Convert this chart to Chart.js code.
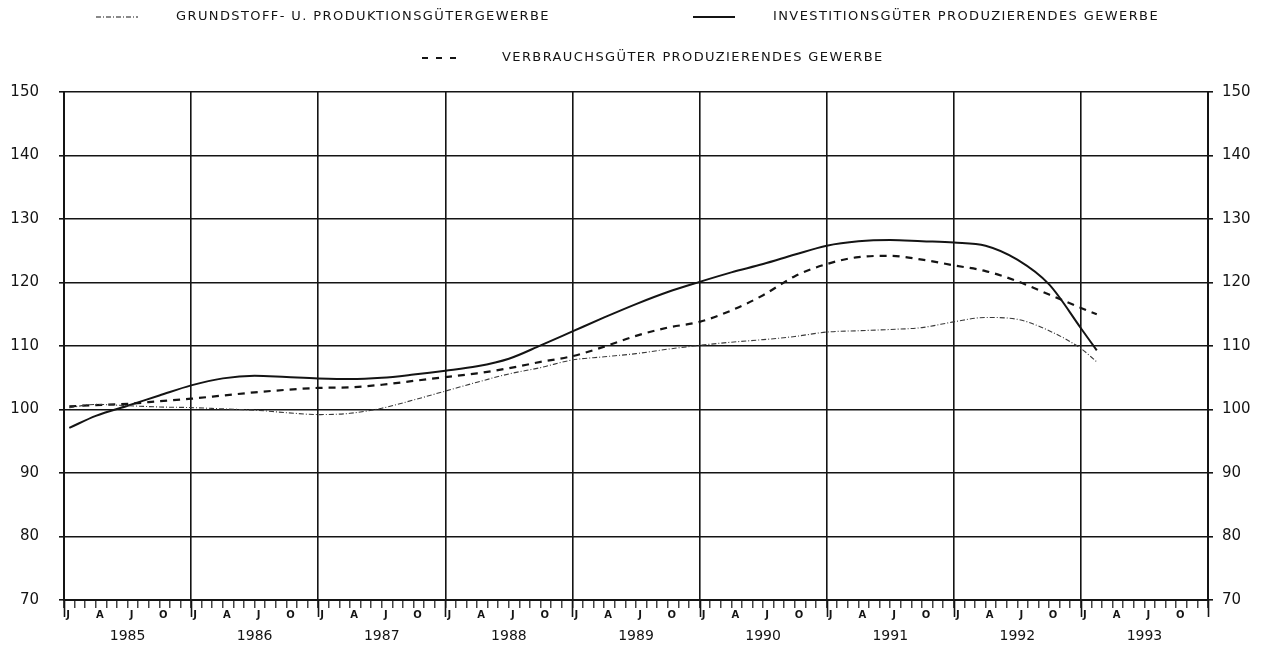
<!DOCTYPE html>
<html>
<head>
<meta charset="utf-8">
<script src="https://cdn.jsdelivr.net/npm/chart.js@4.4.0/dist/chart.umd.min.js"></script>
<style>
html, body { margin: 0; background: #fff; }
#wrap { width: 1271px; height: 648px; }
</style>
</head>
<body>
<div id="wrap"><canvas id="chart"></canvas></div>
<script>
// x = months since January 1985
var months = [0.5, 3, 6, 9, 12, 15, 18, 21, 24, 27, 30, 33, 36, 39, 42, 45, 48, 51, 54, 57,
	60, 63, 66, 69, 72, 75, 78, 81, 84, 87, 90, 93, 96, 97.5];
var investitionsgueter = [97.1, 99.0, 100.6, 102.2, 103.8, 104.9, 105.3, 105.1, 104.9, 104.8, 105.0, 105.5,
	106.1, 106.8, 108.0, 110.1, 112.3, 114.5, 116.6, 118.5, 120.1, 121.6, 122.9, 124.4, 125.8, 126.5,
	126.7, 126.5, 126.3, 125.8, 123.6, 119.7, 112.8, 109.3];
var verbrauchsgueter = [100.5, 100.7, 100.9, 101.3, 101.7, 102.2, 102.7, 103.1, 103.4, 103.5, 103.9, 104.5,
	105.1, 105.7, 106.5, 107.5, 108.4, 109.9, 111.6, 112.9, 113.8, 115.6, 118.0, 121.0, 122.9, 124.0,
	124.2, 123.6, 122.7, 121.8, 120.2, 118.1, 116.0, 115.0];
var grundstoff = [100.3, 100.8, 100.6, 100.4, 100.3, 100.1, 99.9, 99.5, 99.2, 99.4, 100.2, 101.5,
	102.9, 104.3, 105.6, 106.6, 107.8, 108.3, 108.8, 109.5, 110.1, 110.6, 111.0, 111.5, 112.2, 112.4,
	112.6, 112.9, 113.8, 114.5, 114.2, 112.4, 109.6, 107.5];

var years = ['1985', '1986', '1987', '1988', '1989', '1990', '1991', '1992', '1993'];
var monthLetters = ['J', 'A', 'J', 'O'];
var yTicks = [70, 80, 90, 100, 110, 120, 130, 140, 150];

var seriesNames = [
	'GRUNDSTOFF- U. PRODUKTIONSGÜTERGEWERBE',
	'INVESTITIONSGÜTER PRODUZIERENDES GEWERBE',
	'VERBRAUCHSGÜTER PRODUZIERENDES GEWERBE'
];

function points(values) {
	return months.map(function (m, i) { return { x: m, y: values[i] } })
}

var INK = '#141414';

// legend drawn like the plotter original: two rows, letter-spaced caps
var decor = {
	id: 'decor',
	afterDraw: function (chart) {
		var ctx = chart.ctx
		var x = chart.scales.x
		var area = chart.chartArea
		ctx.save()
		// longer tick marks at the year boundaries
		ctx.strokeStyle = INK
		ctx.lineWidth = 1.6
		for (var v = 0; v <= 108; v += 12) {
			var px = Math.round(x.getPixelForValue(v)) + 0.5
			ctx.beginPath()
			ctx.moveTo(px, area.bottom)
			ctx.lineTo(px, area.bottom + 17)
			ctx.stroke()
		}
		var items = [
			{ x: 96, y: 17, dash: [5, 2, 1, 2], w: 1.2, text: seriesNames[0] },
			{ x: 693, y: 17, dash: [], w: 1.8, text: seriesNames[1] },
			{ x: 422, y: 58, dash: [6, 8], w: 2, text: seriesNames[2] }
		]
		ctx.font = '13px "DejaVu Sans"'
		ctx.textBaseline = 'middle'
		ctx.fillStyle = INK
		items.forEach(function (it) {
			ctx.setLineDash(it.dash)
			ctx.lineWidth = it.w
			ctx.beginPath()
			ctx.moveTo(it.x, it.y)
			ctx.lineTo(it.x + 42, it.y)
			ctx.stroke()
			ctx.setLineDash([])
			ctx.letterSpacing = '1.4px'
			ctx.fillText(it.text, it.x + 80, it.y)
			ctx.letterSpacing = '0px'
		})
		ctx.restore()
	}
}

new Chart(document.getElementById('chart'), {
	type: 'line',
	data: {
		datasets: [{
			label: seriesNames[0],
			data: points(grundstoff),
			borderColor: '#3a3a3a',
			borderWidth: 1.1,
			borderDash: [5, 2, 1, 2]
		}, {
			label: seriesNames[1],
			data: points(investitionsgueter),
			borderColor: INK,
			borderWidth: 2
		}, {
			label: seriesNames[2],
			data: points(verbrauchsgueter),
			borderColor: INK,
			borderWidth: 2.2,
			borderDash: [7, 6]
		}]
	},
	options: {
		responsive: true,
		maintainAspectRatio: false,
		animation: false,
		parsing: false,
		elements: {
			point: { radius: 0 },
			line: { cubicInterpolationMode: 'monotone', fill: false }
		},
		layout: { padding: { top: 92, left: 0, right: 0, bottom: 0 } },
		plugins: {
			legend: { display: false },
			tooltip: { enabled: false }
		},
		scales: {
			x: {
				type: 'linear',
				position: 'bottom',
				min: 0,
				max: 108,
				afterFit: function (s) { s.height = 20 },
				ticks: {
					stepSize: 1,
					autoSkip: false,
					maxRotation: 0,
					padding: 1,
					labelOffset: 4,
					color: INK,
					font: { family: 'DejaVu Sans', size: 10, weight: 'bold' },
					callback: function (v) {
						if (v >= 108 || v % 3 !== 0) return ''
						return monthLetters[(v % 12) / 3]
					}
				},
				grid: {
					color: function (c) {
						return c.tick && c.tick.value % 12 === 0 ? INK : 'rgba(0,0,0,0)'
					},
					tickColor: INK,
					lineWidth: 1.6,
					tickLength: 8,
					tickWidth: 1.2
				},
				border: { display: true, color: INK, width: 2 }
			},
			xYears: {
				type: 'linear',
				position: 'bottom',
				min: 0,
				max: 108,
				afterFit: function (s) { s.height = 28 },
				afterBuildTicks: function (s) {
					s.ticks = years.map(function (y, i) { return { value: i * 12 + 6 } })
				},
				ticks: {
					autoSkip: false,
					maxRotation: 0,
					padding: 0,
					color: INK,
					font: { family: 'DejaVu Sans', size: 14 },
					callback: function (v, i) { return years[i] }
				},
				grid: { display: false },
				border: { display: false }
			},
			y: {
				position: 'left',
				min: 70,
				max: 150,
				afterFit: function (s) { s.width = 64 },
				afterBuildTicks: function (s) {
					s.ticks = yTicks.map(function (v) { return { value: v } })
				},
				ticks: {
					padding: 20,
					color: INK,
					font: { family: 'DejaVu Sans', size: 15 }
				},
				grid: { color: INK, lineWidth: 1.6, tickLength: 5 },
				border: { color: INK, width: 2 }
			},
			y2: {
				position: 'right',
				min: 70,
				max: 150,
				afterFit: function (s) { s.width = 63 },
				afterBuildTicks: function (s) {
					s.ticks = yTicks.map(function (v) { return { value: v } })
				},
				ticks: {
					padding: 9,
					color: INK,
					font: { family: 'DejaVu Sans', size: 15 }
				},
				grid: { drawOnChartArea: false, color: INK, lineWidth: 1.6, tickLength: 5 },
				border: { color: INK, width: 2 }
			}
		}
	},
	plugins: [decor]
})
</script>
</body>
</html>
